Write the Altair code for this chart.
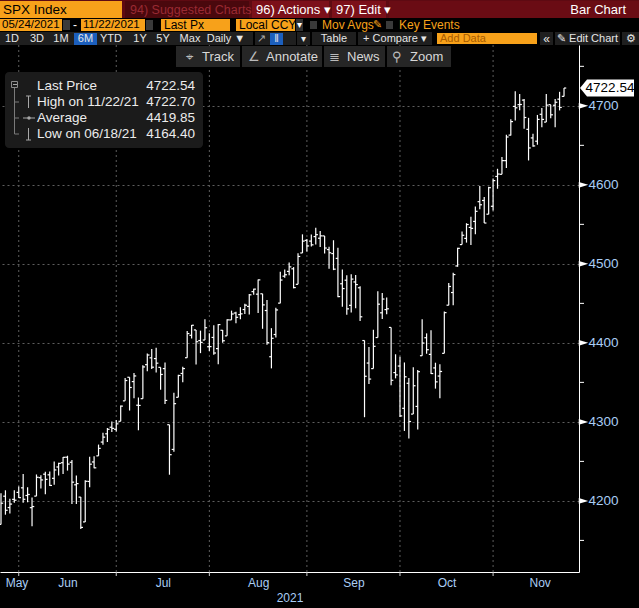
import altair as alt
import pandas as pd

# ---------------- data ----------------
days_by_month = {
    "2021-05": [24, 25, 26, 27, 28],
    "2021-06": [1, 2, 3, 4, 7, 8, 9, 10, 11, 14, 15, 16, 17, 18, 21, 22, 23, 24, 25, 28, 29, 30],
    "2021-07": [1, 2, 6, 7, 8, 9, 12, 13, 14, 15, 16, 19, 20, 21, 22, 23, 26, 27, 28, 29, 30],
    "2021-08": [2, 3, 4, 5, 6, 9, 10, 11, 12, 13, 16, 17, 18, 19, 20, 23, 24, 25, 26, 27, 30, 31],
    "2021-09": [1, 2, 3, 7, 8, 9, 10, 13, 14, 15, 16, 17, 20, 21, 22, 23, 24, 27, 28, 29, 30],
    "2021-10": [1, 4, 5, 6, 7, 8, 11, 12, 13, 14, 15, 18, 19, 20, 21, 22, 25, 26, 27, 28, 29],
    "2021-11": [1, 2, 3, 4, 5, 8, 9, 10, 11, 12, 15, 16, 17, 18, 19, 22],
}
dates = [f"{m}-{d:02d}" for m, ds in days_by_month.items() for d in ds]

opens = [
    4170.16, 4205.94, 4191.59, 4201.94, 4210.77,
    4216.52, 4206.82, 4191.43, 4206.05, 4229.34, 4233.81, 4232.99, 4228.56, 4242.90, 4248.31, 4255.28,
    4248.87, 4220.37, 4204.78, 4173.40, 4224.61, 4249.27, 4256.97, 4274.45, 4284.90, 4293.21, 4290.65,
    4300.73, 4326.60, 4356.46, 4351.01, 4321.07, 4329.38, 4372.41, 4381.07, 4380.11, 4369.02, 4367.43,
    4296.40, 4265.11, 4331.13, 4361.27, 4381.20, 4409.58, 4416.38, 4402.95, 4403.59, 4395.12,
    4406.86, 4392.74, 4415.95, 4408.86, 4429.07, 4437.77, 4435.79, 4442.18, 4446.08, 4464.84, 4461.65,
    4462.12, 4440.94, 4382.44, 4410.56, 4450.29, 4484.40, 4490.45, 4493.75, 4474.10, 4513.76, 4529.75,
    4528.80, 4534.48, 4532.42, 4535.38, 4518.09, 4513.02, 4506.92, 4474.81, 4479.33, 4447.49, 4477.09,
    4469.74, 4402.95, 4374.45, 4367.43, 4406.75, 4438.04, 4442.12, 4419.54, 4362.41, 4370.67,
    4317.16, 4348.84, 4309.87, 4319.57, 4383.73, 4406.51, 4385.44, 4368.31, 4358.01, 4386.75, 4447.69,
    4463.72, 4497.34, 4524.42, 4532.24, 4546.12, 4553.69, 4578.69, 4580.22, 4562.84, 4572.87,
    4610.62, 4613.34, 4630.65, 4662.93, 4699.26, 4701.48, 4707.25, 4670.26, 4659.39, 4655.24, 4689.30,
    4679.42, 4701.50, 4700.72, 4708.44, 4712.00,
]
highs = [
    4209.52, 4213.42, 4202.61, 4213.38, 4218.36,
    4234.12, 4217.37, 4204.39, 4233.45, 4232.34, 4236.74, 4237.09, 4249.74, 4248.38, 4255.59, 4257.16,
    4251.89, 4232.29, 4204.78, 4226.24, 4255.84, 4256.60, 4271.28, 4286.12, 4292.14, 4300.52, 4302.43,
    4320.66, 4355.43, 4356.46, 4361.88, 4330.88, 4371.60, 4386.68, 4392.37, 4393.68, 4369.02, 4375.09,
    4296.40, 4336.84, 4359.70, 4369.87, 4415.18, 4422.73, 4416.38, 4415.47, 4429.97, 4412.25,
    4422.18, 4423.79, 4416.17, 4429.76, 4440.82, 4439.39, 4445.21, 4449.44, 4461.77, 4468.37, 4480.26,
    4462.12, 4454.32, 4418.61, 4444.35, 4489.88, 4492.81, 4501.71, 4495.90, 4513.33, 4537.36, 4531.39,
    4537.11, 4545.85, 4541.45, 4535.38, 4521.79, 4529.90, 4520.47, 4492.99, 4485.68, 4486.87, 4485.87,
    4471.52, 4402.95, 4394.87, 4416.75, 4465.40, 4463.12, 4457.30, 4419.54, 4385.57, 4382.55,
    4375.19, 4355.51, 4369.23, 4365.57, 4429.97, 4412.02, 4415.88, 4374.89, 4372.87, 4439.73, 4475.82,
    4488.75, 4520.40, 4540.87, 4551.44, 4559.67, 4572.62, 4598.53, 4584.57, 4597.55, 4608.08,
    4620.34, 4635.15, 4663.46, 4683.00, 4718.50, 4714.92, 4708.53, 4684.85, 4664.55, 4688.47, 4697.42,
    4714.95, 4701.50, 4708.80, 4717.75, 4722.70,
]
lows = [
    4170.16, 4182.52, 4184.11, 4197.78, 4203.57,
    4197.59, 4198.27, 4167.93, 4206.05, 4215.66, 4208.41, 4218.74, 4220.34, 4232.25, 4234.07, 4238.35,
    4195.99, 4196.05, 4164.40, 4173.40, 4217.27, 4241.43, 4256.97, 4271.16, 4274.67, 4287.04, 4287.96,
    4300.73, 4326.60, 4314.37, 4329.79, 4289.37, 4329.38, 4364.03, 4366.92, 4362.36, 4340.70, 4322.53,
    4233.13, 4262.05, 4331.13, 4350.06, 4381.20, 4405.45, 4372.51, 4387.01, 4403.59, 4389.65,
    4384.81, 4373.00, 4400.23, 4408.86, 4429.07, 4424.74, 4430.03, 4436.42, 4435.96, 4460.82, 4437.66,
    4417.83, 4397.59, 4367.73, 4406.80, 4450.29, 4482.28, 4485.66, 4468.99, 4474.10, 4513.76, 4515.80,
    4522.02, 4524.66, 4521.30, 4513.00, 4493.95, 4492.07, 4457.66, 4445.70, 4435.46, 4438.37, 4443.80,
    4427.76, 4305.91, 4347.96, 4367.43, 4406.75, 4430.27, 4436.19, 4346.33, 4355.08, 4306.24,
    4288.52, 4278.94, 4309.87, 4290.49, 4383.73, 4386.22, 4360.59, 4342.09, 4329.92, 4386.75, 4447.69,
    4447.47, 4496.41, 4524.40, 4526.89, 4524.00, 4537.36, 4569.17, 4551.66, 4562.84, 4567.59,
    4595.06, 4613.34, 4621.19, 4662.59, 4681.32, 4694.39, 4670.87, 4630.86, 4648.31, 4650.77, 4672.86,
    4679.42, 4684.41, 4672.78, 4694.22, 4711.80,
]
closes = [
    4197.05, 4188.13, 4195.99, 4200.88, 4204.11,
    4202.04, 4208.12, 4192.85, 4229.89, 4226.52, 4227.26, 4219.55, 4239.18, 4247.44, 4255.15, 4246.59,
    4223.70, 4221.86, 4166.45, 4224.79, 4246.44, 4241.84, 4266.49, 4280.70, 4290.61, 4291.80, 4297.50,
    4319.94, 4352.34, 4343.54, 4358.13, 4320.82, 4369.55, 4384.63, 4369.21, 4374.30, 4360.03, 4327.16,
    4258.49, 4323.06, 4358.69, 4367.48, 4411.79, 4422.30, 4401.46, 4400.64, 4419.15, 4395.26,
    4387.16, 4423.15, 4402.66, 4429.10, 4436.52, 4432.35, 4436.75, 4447.70, 4460.83, 4468.00, 4479.71,
    4448.08, 4400.27, 4405.80, 4441.67, 4479.53, 4486.23, 4496.19, 4470.00, 4509.37, 4528.79, 4522.68,
    4524.09, 4536.95, 4535.43, 4520.03, 4514.07, 4493.28, 4458.58, 4468.73, 4443.05, 4480.70, 4473.75,
    4432.99, 4357.73, 4354.19, 4395.64, 4448.98, 4455.48, 4443.11, 4352.63, 4359.46, 4307.54,
    4357.04, 4300.46, 4345.72, 4363.55, 4399.76, 4391.34, 4361.19, 4350.65, 4363.80, 4438.26, 4471.37,
    4486.46, 4519.63, 4536.19, 4549.78, 4544.90, 4566.48, 4574.79, 4551.68, 4596.42, 4605.38,
    4613.67, 4630.65, 4660.57, 4680.06, 4697.53, 4701.70, 4685.25, 4646.71, 4649.27, 4682.85, 4682.80,
    4700.90, 4688.67, 4704.54, 4697.96, 4722.54,
]

month_names = ["May", "Jun", "Jul", "Aug", "Sep", "Oct", "Nov"]
month_label_pos = [3.5, 15, 36.5, 58, 79.5, 100.5, 121.5]
y_major = [4200, 4300, 4400, 4500, 4600, 4700]
y_minor = [4150, 4250, 4350, 4450, 4550, 4650, 4750]
last_price = 4722.54
legend_names = ["Last Price", "High on 11/22/21", "Average", "Low on 06/18/21"]
legend_values = ["4722.54", "4722.70", "4419.85", "4164.40"]

# last trading day of each month -> vertical grid lines
month_end_idx = [k for k in range(len(dates) - 1) if dates[k][:7] != dates[k + 1][:7]]

# ---------------- styling ----------------
FONT = "Liberation Sans"
W, H, TOP = 579, 527, 45
ORANGE = "#f7a11a"
AXIS_BLUE = "#a9cdf5"
GRID = "#5e5e5e"

df = pd.DataFrame({"i": list(range(len(dates))), "date": dates, "open": opens,
                   "high": highs, "low": lows, "close": closes})

xs = alt.Scale(domain=[-0.226, 130.38], nice=False, zero=False)
ys = alt.Scale(domain=[4110, 4777], nice=False, zero=False)

label_map = "{" + ",".join(f"'{p:g}':'{n}'" for p, n in zip(month_label_pos, month_names)) + "}"
x_axis = alt.Axis(values=month_label_pos, labelExpr=f"{label_map}['' + datum.value]",
                  ticks=False, tickSize=0, grid=False, domainColor="white", domainWidth=1,
                  labelColor=AXIS_BLUE, labelFontSize=12, labelFont=FONT, labelPadding=5,
                  labelFlush=False, titleColor=AXIS_BLUE, titleFontSize=12,
                  titleFont=FONT, titleFontWeight="normal", titlePadding=4)
y_axis = alt.Axis(values=y_major, orient="right", ticks=False, tickSize=0, labelPadding=9,
                  format="d", labelColor=AXIS_BLUE, labelFontSize=13.5, labelFont=FONT,
                  domainColor="white", domainWidth=1, grid=True, gridColor=GRID,
                  gridDash=[2, 3], gridWidth=1)

def XS(field):
    return alt.X(field, scale=xs, axis=x_axis, title="2021")

def YS(field):
    return alt.Y(field, scale=ys, axis=y_axis, title=None)

# vertical dashed grid at month ends
vgrid = alt.Chart(pd.DataFrame({"k": month_end_idx})).mark_rule(
    color=GRID, strokeDash=[2, 3], strokeWidth=1
).encode(x=XS("k:Q"), y=alt.value(0), y2=alt.value(H))

base = alt.Chart(df)
hl = base.mark_rule(color="white", strokeWidth=1.2).encode(
    x=XS("i:Q"), y=YS("low:Q"), y2="high:Q")
open_tick = base.transform_calculate(xo="datum.i - 0.5").mark_rule(color="white", strokeWidth=1.2).encode(
    x=XS("xo:Q"), x2="i:Q", y=YS("open:Q"))
close_tick = base.transform_calculate(xc="datum.i + 0.5").mark_rule(color="white", strokeWidth=1.2).encode(
    x=XS("i:Q"), x2="xc:Q", y=YS("close:Q"))

bottom_ticks = alt.Chart(pd.DataFrame({"k": month_end_idx})).mark_rule(color="#cccccc").encode(
    x=XS("k:Q"), y=alt.value(H), y2=alt.value(H + 4))

minor = alt.Chart(pd.DataFrame({"v": y_minor})).mark_rule(color="white").encode(
    x=alt.value(W), x2=alt.value(W + 5), y=YS("v:Q"))
major = alt.Chart(pd.DataFrame({"v": y_major})).mark_point(
    shape="M-1,-0.6L1,0L-1,0.6Z", filled=True, color="white", opacity=1, size=90, strokeWidth=0
).encode(x=alt.value(W + 4.5), y=YS("v:Q"))

lp_df = pd.DataFrame({"v": [last_price], "t": [f"{last_price:.2f}"]})
lp_box = alt.Chart(lp_df).mark_point(
    shape="M-1,0L-0.74,-0.315L1,-0.315L1,0.315L-0.74,0.315Z", filled=True, color="white",
    opacity=1, size=2916, strokeWidth=0
).encode(x=alt.value(W + 28), y=YS("v:Q"))
lp_text = alt.Chart(lp_df).mark_text(font=FONT, fontSize=13.5, color="black", align="center",
                                     baseline="middle").encode(
    x=alt.value(W + 31), y=YS("v:Q"), text="t:N")

# ---------------- UI chrome (canvas pixel coordinates) ----------------
def shift(rows, keys):
    out = []
    for r in rows:
        r = dict(r)
        for k in keys:
            r[k] = r[k] - TOP
        out.append(r)
    return out

rects = [
    (0, 0, 639, 18, "#5e0a12"), (0, 1, 122, 18, ORANGE), (125, 1, 249, 18, "#4a080d"),
    (252, 1, 329, 18, "#7c1019"), (332, 1, 386, 18, "#7c1019"), (389, 1, 639, 18, "#6a0c14"),
    (0, 19, 62, 31, ORANGE), (63, 20, 70, 30, "#3a3a3a"), (81, 19, 145, 31, ORANGE),
    (146, 20, 153, 30, "#3a3a3a"), (161, 19, 230, 31, ORANGE), (236, 19, 295, 31, ORANGE),
    (296, 19, 303, 31, "#333333"), (310, 21, 317, 29, "#3a3a3a"), (386, 21, 393, 29, "#3a3a3a"),
    (0, 32, 253, 45, "#1f1f1f"), (74, 33, 97, 45, "#1c5fbd"), (255, 32, 296, 45, "#1f1f1f"),
    (270, 33, 283, 45, "#1c5fbd"), (297, 32, 310, 45, "#1f1f1f"), (312, 32, 356, 45, "#1f1f1f"),
    (358, 32, 432, 45, "#1f1f1f"), (437, 33, 537, 44, ORANGE), (540, 32, 553, 45, "#1f1f1f"),
    (555, 32, 620, 45, "#1f1f1f"), (622, 32, 639, 45, "#1f1f1f"),
    (176, 46, 240, 67, "#262626"), (242, 46, 322, 67, "#262626"),
    (324, 46, 385, 67, "#262626"), (387, 46, 451, 67, "#262626"),
    (21, 80, 33, 92, "white"),
]
rect_df = pd.DataFrame(shift([dict(x=a, y=b, x2=c, y2=d, c=e) for a, b, c, d, e in rects], ["y", "y2"]))

W_TXT = "#e6e6e6"
texts = [
    ("SPX Index", 3, 10, "black", 13.5, "left"), ("94) Suggested Charts", 130, 10, "#9a2a33", 12.5, "left"),
    ("96) Actions ▾", 256, 10, "white", 13, "left"), ("97) Edit ▾", 336, 10, "white", 13, "left"),
    ("Bar Chart", 626, 10, "white", 13, "right"),
    ("05/24/2021", 2, 25, "black", 11.5, "left"), ("-", 75, 25, "white", 12, "center"),
    ("11/22/2021", 83, 25, "black", 11.5, "left"), ("Last Px", 164, 25, "black", 12, "left"),
    ("Local CCY", 239, 25, "black", 12, "left"), ("▾", 299.5, 25, "white", 10, "center"),
    ("Mov Avgs", 322, 25, ORANGE, 12, "left"), ("✎", 377, 25, ORANGE, 11, "center"),
    ("Key Events", 399, 25, ORANGE, 12, "left"),
    ("1D", 12, 38.5, W_TXT, 11, "center"), ("3D", 37, 38.5, W_TXT, 11, "center"),
    ("1M", 61, 38.5, W_TXT, 11, "center"), ("6M", 85.5, 38.5, W_TXT, 11, "center"),
    ("YTD", 111, 38.5, W_TXT, 11, "center"), ("1Y", 140, 38.5, W_TXT, 11, "center"),
    ("5Y", 163, 38.5, W_TXT, 11, "center"), ("Max", 190, 38.5, W_TXT, 11, "center"),
    ("Daily ▼", 226, 38.5, W_TXT, 11, "center"), ("↗", 261, 38.5, "#aaaaaa", 11, "center"),
    ("‖", 276.5, 38.5, W_TXT, 11, "center"), ("▾", 303, 38.5, W_TXT, 10, "center"),
    ("Table", 334, 38.5, W_TXT, 11, "center"), ("+ Compare ▾", 395, 38.5, W_TXT, 11, "center"),
    ("Add Data", 440, 38.5, "#a85c00", 11, "left"), ("«", 546.5, 38.5, W_TXT, 12, "center"),
    ("✎ Edit Chart", 587.5, 38.5, W_TXT, 11, "center"), ("⚙", 630.5, 38.5, W_TXT, 11, "center"),
    ("⌖", 189, 57, "#bbbbbb", 13, "center"), ("Track", 202, 57, "#d8d8d8", 13, "left"),
    ("∠", 254, 57, "#bbbbbb", 13, "center"), ("Annotate", 266, 57, "#d8d8d8", 13, "left"),
    ("≣", 334, 57, "#bbbbbb", 13, "center"), ("News", 347, 57, "#d8d8d8", 13, "left"),
    ("⚲", 397, 57, "#bbbbbb", 13, "center"), ("Zoom", 410, 57, "#d8d8d8", 13, "left"),
]
for k, (n, v) in enumerate(zip(legend_names, legend_values)):
    texts.append((n, 37, 86 + 16 * k, "#ececec", 13.5, "left"))
    texts.append((v, 195, 86 + 16 * k, "#ececec", 13.5, "right"))
text_df = pd.DataFrame(shift([dict(t=a, x=b, y=c, c=d, s=e, a=f) for a, b, c, d, e, f in texts], ["y"]))

segs = [
    (14.5, 88, 14.5, 134, "#7a7a7a"), (14.5, 102, 19, 102, "#7a7a7a"),
    (14.5, 118, 19, 118, "#7a7a7a"), (14.5, 134, 19, 134, "#7a7a7a"),
    (28.5, 96, 28.5, 108, "#a8a8a8"), (26, 96, 31, 96, "#a8a8a8"),
    (23, 118, 35, 118, "#a8a8a8"),
    (28.5, 128, 28.5, 140, "#a8a8a8"), (26, 140, 31, 140, "#a8a8a8"),
    (13, 84.5, 17, 84.5, "#a8a8a8"),
]
seg_df = pd.DataFrame(shift([dict(x=a, y=b, x2=c, y2=d, c=e) for a, b, c, d, e in segs], ["y", "y2"]))

def px(field):
    return alt.X(f"{field}:Q", scale=None, axis=None)

def py(field):
    return alt.Y(f"{field}:Q", scale=None, axis=None)

legend_box = alt.Chart(pd.DataFrame({"a": [0]})).mark_rect(
    color="#1b1b1b", cornerRadius=4
).encode(x=alt.value(5), x2=alt.value(203), y=alt.value(72 - TOP), y2=alt.value(148 - TOP))
tree_box = alt.Chart(pd.DataFrame({"a": [0]})).mark_rect(
    fill="#1b1b1b", stroke="#8a8a8a", strokeWidth=1
).encode(x=alt.value(11.5), x2=alt.value(17.5), y=alt.value(81.5 - TOP), y2=alt.value(87.5 - TOP))
avg_dot = alt.Chart(pd.DataFrame({"a": [0]})).mark_point(
    filled=True, color="#a8a8a8", opacity=1, size=12, shape="circle"
).encode(x=alt.value(29), y=alt.value(118 - TOP))

rect_layer = alt.Chart(rect_df).mark_rect().encode(
    x=px("x"), x2="x2:Q", y=py("y"), y2="y2:Q", color=alt.Color("c:N", scale=None))
seg_layer = alt.Chart(seg_df).mark_rule(strokeWidth=1).encode(
    x=px("x"), x2="x2:Q", y=py("y"), y2="y2:Q", color=alt.Color("c:N", scale=None))

text_layers = []
for al in ["left", "center", "right"]:
    text_layers.append(
        alt.Chart(text_df).transform_filter(f"datum.a == '{al}'").mark_text(
            font=FONT, align=al, baseline="middle"
        ).encode(x=px("x"), y=py("y"), text="t:N",
                 color=alt.Color("c:N", scale=None), size=alt.Size("s:Q", scale=None))
    )

chart = alt.layer(
    vgrid, hl, open_tick, close_tick, bottom_ticks, minor, major, lp_box, lp_text,
    rect_layer, legend_box, tree_box, seg_layer, avg_dot, *text_layers
).properties(
    width=W, height=H,
    padding={"left": 0, "top": TOP, "right": 639 - W, "bottom": 608 - TOP - H},
    autosize=alt.AutoSizeParams(type="none"),
    background="black",
).configure_view(strokeWidth=0)

chart.save("out.html", embed_options={"renderer": "svg", "actions": False})
